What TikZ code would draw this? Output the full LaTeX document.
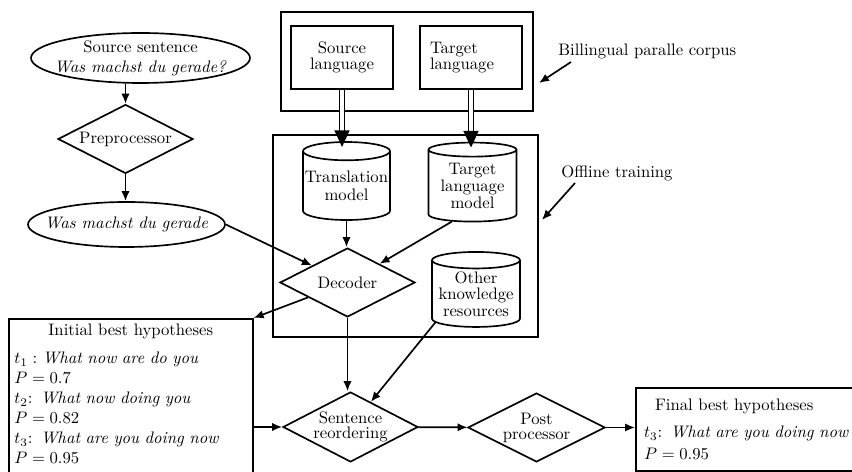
\documentclass[tikz,border=0pt]{standalone}
\usetikzlibrary{shapes.geometric,arrows.meta}
\def\pu{0.6pt}
\begin{document}
\begin{tikzpicture}[x=0.6pt,y=-0.6pt,
  base/.style={draw,line width=1pt},
  txt/.style={label={[align=center]center:{#1}}},
  oval/.style={base,ellipse,inner sep=0pt},
  dia/.style={base,diamond,inner sep=0pt},
  cyl/.style={base,cylinder,shape border rotate=90,shape aspect=0.22,inner sep=0pt,align=center},
  rect/.style={base,rectangle},
  arr/.style={line width=1pt,-{Latex[length=6pt,width=5pt]}},
  darr/.style={line width=0.9pt,double,double distance=2pt,-{Triangle[length=10pt,width=9pt]},shorten >=-3.5pt}
]
\useasboundingbox (0,0) rectangle (852,472);
\clip (0,0) rectangle (852,472);

% group frames
\node[rect,minimum width=252*\pu,minimum height=99*\pu] (bil) at (407,61.5) {};
\node[rect,minimum width=265*\pu,minimum height=202*\pu] (off) at (405.5,236) {};

% left column
\node[oval,minimum width=219*\pu,minimum height=50*\pu,txt={Source sentence\\\textit{Was machst du gerade?}}] (src) at (140.5,58) {};
\node[dia,minimum width=135*\pu,minimum height=69*\pu,txt={Preprocessor}] (pre) at (125.5,139) {};
\node[oval,minimum width=197*\pu,minimum height=45*\pu,txt={\textit{Was machst du gerade}}] (w2) at (126.5,224.5) {};

% corpus
\node[rect,minimum width=102*\pu,minimum height=63*\pu,align=center] (sl) at (342,57.5) {Source\\[-2pt]language};
\node[rect,text width=49.2pt,inner xsep=6pt,minimum height=63*\pu,align=left] (tl) at (471,57.5) {Target\\[-2pt]language};

% models
\node[cyl,minimum width=87*\pu,minimum height=78*\pu] (tm) at (346.5,186) {Translation\\[-1pt]model};
\node[cyl,minimum width=88*\pu,minimum height=79*\pu] (tlm) at (472.5,186) {Target\\[-2pt]language\\[-2pt]model};
\node[cyl,minimum width=88*\pu,minimum height=75*\pu] (ok) at (476,294) {Other\\[-2pt]knowledge\\[-2pt]resources};

% decoding
\node[dia,minimum width=135*\pu,minimum height=69*\pu,txt={Decoder}] (dec) at (347.5,282.5) {};
\node[dia,minimum width=135*\pu,minimum height=70*\pu,txt={Sentence\\[-3pt]reordering}] (sr) at (350.5,427) {};
\node[dia,minimum width=137*\pu,minimum height=69*\pu,txt={Post\\[-3pt]processor}] (post) at (536.5,427.5) {};

% hypotheses boxes
\node[rect,anchor=north west,text width=139.7pt,align=left,inner xsep=3.33pt,inner ysep=3pt] (init) at (8,318)
 {\makebox[139.7pt]{Initial best hypotheses}\\[5pt]
  $t_1:$ \textit{What now are do you}\\
  $P=0.7$\\
  $t_2$: \textit{What now doing you}\\
  $P=0.82$\\
  $t_3$: \textit{What are you doing now}\\
  $P=0.95$\rule[-20pt]{0pt}{0pt}};
\node[rect,anchor=north west,align=left,inner xsep=5pt,text width=150pt,minimum height=83*\pu] (fin) at (635,387)
 {\hspace{6.5pt}Final best hypotheses\\[4pt]
  $t_3$: \textit{What are you doing now}\\[1pt]
  $P=0.95$};

% side labels
\node[anchor=base west] (bl) at (552.5,56) {Billingual paralle corpus};
\node[anchor=base west] (ot) at (555.5,178) {Offline training};
\coordinate (blA) at (571,62);
\coordinate (blB) at (539,83);
\coordinate (otA) at (575,183);
\coordinate (otB) at (542,220);

% connectors
\draw[arr] (src.south -| pre) -- (pre.north);
\draw[arr] (pre.south) -- (pre.south |- w2.north);
\draw[arr] (w2.east) -- (dec);
\draw[darr] (sl.south) -- (sl.south |- tm.north);
\draw[darr] (tl.south) -- (tl.south |- tlm.north);
\draw[arr] (tm.south) -- (tm.south |- dec.north);
\draw[arr] (tlm.240) -- (dec);
\draw[arr] (dec) -- (init.north east);
\draw[arr] (dec.south) -- (dec.south |- sr.north);
\draw[arr] (ok.215) -- (sr);
\draw[arr] (init.east |- sr) -- (sr);
\draw[arr] (sr) -- (post);
\draw[arr] (post) -- (fin.west |- post);
\draw[arr] (blA) -- (blB);
\draw[arr] (otA) -- (otB);
\end{tikzpicture}
\end{document}
